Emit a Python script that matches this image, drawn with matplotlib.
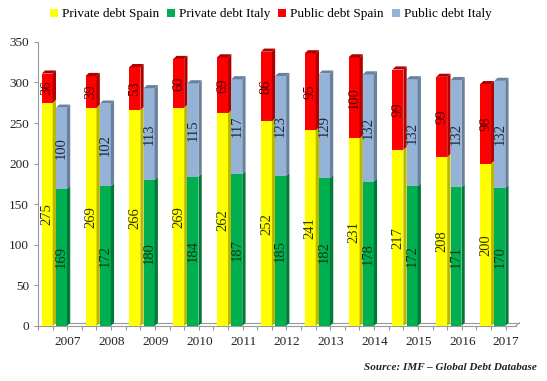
import matplotlib
matplotlib.use('Agg')
import matplotlib.pyplot as plt
from matplotlib.patches import Polygon, Patch

plt.rcParams['font.family'] = ['Liberation Serif', 'DejaVu Serif']

# 数据
years = ['2007', '2008', '2009', '2010', '2011', '2012', '2013', '2014', '2015', '2016', '2017']
private_spain = [275, 269, 266, 269, 262, 252, 241, 231, 217, 208, 200]
public_spain = [36, 39, 53, 60, 69, 86, 95, 100, 99, 99, 98]
private_italy = [169, 172, 180, 184, 187, 185, 182, 178, 172, 171, 170]
public_italy = [100, 102, 113, 115, 117, 123, 129, 132, 132, 132, 132]

# 颜色 (正面, 侧面)
c_yellow = ('#FFFF00', '#B8B800')
c_green = ('#00B050', '#007A36')
c_red = ('#FF0000', '#B00000')
c_blue = ('#95B3D7', '#6A819E')

W = 0.25      # 柱宽
DX = 0.075    # 侧面深度 x
DY = 3.8      # 侧面深度 y

fig = plt.figure(figsize=(5.47, 3.81), dpi=100)
ax = fig.add_axes([0.0695, 0.1444, 0.8815, 0.7456])
ax.set_xlim(0, 11)
ax.set_ylim(0, 350)


def bar3d(x0, bottom, h, colors, top=True):
    front, side = colors
    ax.add_patch(plt.Rectangle((x0, bottom), W, h, facecolor=front, edgecolor='none', zorder=3))
    ax.add_patch(Polygon([(x0 + W, bottom), (x0 + W + DX, bottom + DY),
                          (x0 + W + DX, bottom + h + DY), (x0 + W, bottom + h)],
                         closed=True, facecolor=side, edgecolor='none', zorder=3))
    if top:
        ax.add_patch(Polygon([(x0, bottom + h), (x0 + W, bottom + h),
                              (x0 + W + DX, bottom + h + DY), (x0 + DX, bottom + h + DY)],
                             closed=True, facecolor=side, edgecolor='none', zorder=3))


# 地板
ax.plot([0, 10.9], [0, 0], color='#999999', lw=0.8, zorder=2, clip_on=False)
ax.plot([0.08, 10.98], [DY, DY], color='#999999', lw=0.8, zorder=2, clip_on=False)
ax.plot([10.9, 10.98], [0, DY], color='#999999', lw=0.8, zorder=2, clip_on=False)

for i in range(len(years)):
    xs = i + 0.085
    xi = i + 0.41
    bar3d(xs, 0, private_spain[i], c_yellow, top=False)
    bar3d(xs, private_spain[i], public_spain[i], c_red)
    bar3d(xi, 0, private_italy[i], c_green, top=False)
    bar3d(xi, private_italy[i], public_italy[i], c_blue)

    kw = dict(rotation=90, ha='center', va='center', fontsize=10.5, zorder=5)
    ax.text(xs + W / 2, private_spain[i] / 2, str(private_spain[i]), color='#333300', **kw)
    ax.text(xs + W / 2, private_spain[i] + public_spain[i] / 2, str(public_spain[i]), color='#550000', **kw)
    ax.text(xi + W / 2, private_italy[i] / 2, str(private_italy[i]), color='#0a3a1a', **kw)
    ax.text(xi + W / 2, private_italy[i] + public_italy[i] / 2, str(public_italy[i]), color='#1a2a40', **kw)

# 坐标轴
for s in ['top', 'right', 'bottom']:
    ax.spines[s].set_visible(False)
ax.spines['left'].set_color('#999999')
ax.spines['left'].set_linewidth(0.8)
ax.set_yticks(range(0, 351, 50))
ax.tick_params(axis='y', colors='#999999', labelcolor='#222222', labelsize=9.5, length=3, width=0.8)

ax.set_xticks([i / 3 for i in range(0, 33)])
ax.tick_params(axis='x', colors='#999999', length=3, width=0.8, labelbottom=False)
for i, y in enumerate(years):
    ax.text(i + 0.68, -12, y, ha='center', va='top', fontsize=9.5, color='#222222')

# 图例
handles = [Patch(facecolor=c_yellow[0]), Patch(facecolor=c_green[0]),
           Patch(facecolor=c_red[0]), Patch(facecolor=c_blue[0])]
labels = ['Private debt Spain', 'Private debt Italy', 'Public debt Spain', 'Public debt Italy']
fig.legend(handles, labels, loc='center', bbox_to_anchor=(0.495, 0.962), ncol=4, frameon=False,
           fontsize=9.5, handlelength=0.6, handleheight=0.6, handletextpad=0.3, columnspacing=0.6)

fig.text(0.982, 0.036, 'Source: IMF \u2013 Global Debt Database', ha='right', va='center',
         fontsize=8, fontweight='bold', fontstyle='italic', color='#222222')

fig.savefig('out.png', dpi=100)
